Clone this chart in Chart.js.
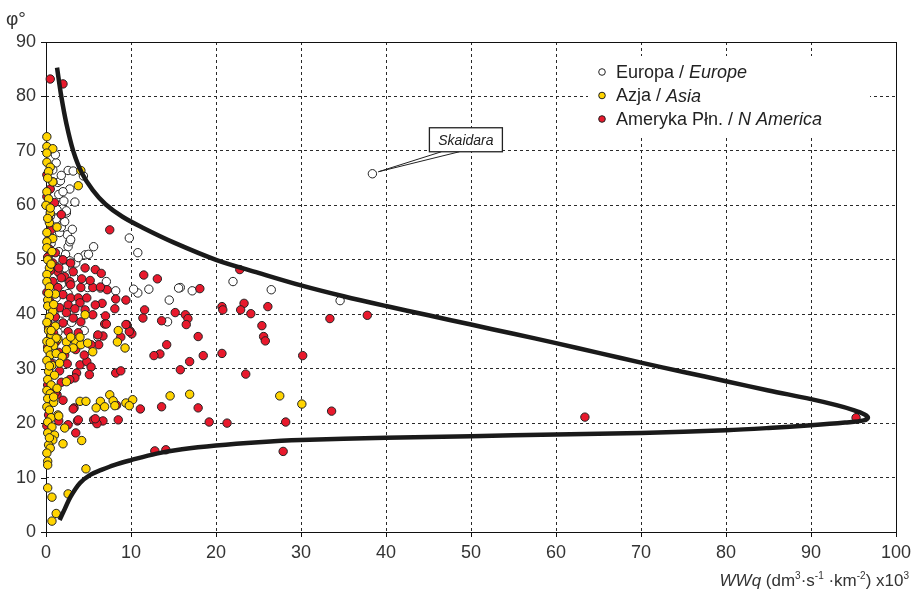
<!DOCTYPE html>
<html>
<head>
<meta charset="utf-8">
<script src="https://cdn.jsdelivr.net/npm/chart.js@4.4.0/dist/chart.umd.min.js"></script>
<style>
  html, body { margin: 0; padding: 0; background: #fff; }
  #wrap { width: 913px; height: 595px; }
</style>
</head>
<body>
<div id="wrap"><canvas id="chart"></canvas></div>
<script>
// ===== DATA =====
const xTicks = [0, 10, 20, 30, 40, 50, 60, 70, 80, 90, 100];
const yTicks = [0, 10, 20, 30, 40, 50, 60, 70, 80, 90];

const seriesLabels = ['Europa / ', 'Azja / ', 'Ameryka Płn. / '];
const seriesLabelsEn = ['Europe', 'Asia', 'N America'];

// Europa / Europe  [WWq, phi]
const europe = [
  [38.4,65.8],[34.6,42.5],[26.5,44.5],[22,46],[17.2,44.3],[15.8,44.9],[15.6,44.8],[14.5,42.6],
  [12.1,44.6],[10.8,43.9],[10.3,44.6],[8.2,44.3],[7.1,46],[6.4,44.8],[9.8,54],[10.8,51.3],
  [14.3,38.6],[5.6,52.4],[4.6,50.9],[5,51],[3.5,49.4],[3.3,46.7],[4.9,44.9],[2.6,52.4],
  [3.8,50.4],[2.5,54.6],[2.8,53.3],[1.6,55],[2.4,58.6],[2.6,66.4],[2.1,60.8],[2.4,59],
  [1.2,67.8],[1.4,64.2],[1.7,64.5],[2.9,53.7],[1.1,69.3],[3.2,66.3],[1.8,65.5],[0.8,66.5],
  [1.5,62],[0.9,60],[1.2,57.5],[1.8,56],[0.6,53],[1.5,51.5],[1,49],[2.2,48.5],[1.8,45.5],
  [1.2,43],[2.5,41],[1.5,38],[4,34.7],[6.1,35.8],[2,36],[1,33],[0.8,31],[3,38.5],[4.5,37],
  [0.5,58],[2.8,63],[4.4,65.4],[3.4,60.6],[2,62.5],[1.3,59.2],[2.2,57],[3.1,55.6],[2.3,51],
  [1.2,50.2],[2.8,49.8],[1.7,47.3],[0.9,44.6],[2.6,43.8],[1.9,40.2],[0.9,39.3],[1.4,36.7]
];

// Azja / Asia
const asia = [
  [0.1,72.6],[0.1,70.8],[0.8,70.4],[0.1,69.6],[0.1,67.9],[0.5,67],[0.3,66.2],[0.8,64.3],
  [4.1,66.4],[3.8,63.6],[0.2,65],[0.1,62.5],[0.3,61.2],[0,60],[0.5,58.6],[0.4,56.8],[1.3,56],
  [0.1,55],[0.8,53.9],[0.1,53.3],[0.1,52.2],[0.7,51.5],[0.2,50],[0.4,48.5],[0.1,47.3],[0.1,46],
  [0.4,45],[1.1,43.7],[0.2,42.6],[0.2,41.5],[0.8,40.5],[0.4,39.5],[0.1,38.5],[1.1,37.8],
  [0.3,37],[0.6,36],[0.1,35],[1.4,35.5],[0.9,34.2],[0.2,33.5],[0.5,32.5],[1.2,32.8],[0.1,31.5],
  [0.7,30.6],[0.3,29.5],[1,28.8],[0.2,28],[0.6,27],[0.1,26],[0.5,25.4],[0.2,24.5],[0.9,23.8],
  [0.1,23],[0.4,22.4],[1.4,21.5],[0.6,21],[0.2,20.2],[0.7,19.3],[0.2,18.2],[1,17.8],[0.8,16.9],
  [0.3,16],[0.5,15.4],[0.1,14.5],[0.2,13],[0.2,12.3],[0.2,8.1],[0.7,6.4],[0.7,2],[1.2,3.4],
  [4.6,39.9],[0.6,37],[1.2,35.6],[2.4,34.9],[3.5,34.9],[4.1,34.4],[4.9,34.7],[3.2,33.8],
  [8.5,37],[8.4,34.9],[9.3,33.8],[2.9,35.8],[4,35.8],[5.5,33.1],[2.4,33.5],[1.9,32.2],
  [2.4,27.6],[7.5,25.2],[14.6,25],[16.9,25.3],[4,24],[4.7,24],[6.4,24],[5.9,22.8],[6.9,23],
  [7.9,24.1],[8.1,23.2],[9.4,23.7],[10.2,24.3],[9.8,23.2],[2.2,19.1],[2,16.2],[4.2,16.8],
  [4.7,11.6],[2.6,7],[30.1,23.5],[27.5,25],[1.5,21.3],[0.5,59.5],[0.2,57.6],[0.6,49.2],
  [0.3,43.8],[0.9,41.8],[0.5,34.8],[1.6,31],[0.4,30.5],[1.3,26.4],[0.9,24.8],[0.4,17.3]
];

// Ameryka Płn. / N America
const america = [
  [0.5,83.2],[2,82.3],[95.3,21],[63.4,21.1],[37.8,39.8],[33.4,39.2],[30.2,32.4],[33.6,22.2],
  [27.9,14.8],[28.2,20.2],[26.1,41.4],[25.4,37.9],[25.6,35.9],[25.8,35.1],[24.1,40.1],[23.3,42],
  [22.9,40.8],[22.8,48.2],[20.7,41.4],[20.8,40.8],[23.5,29],[20.7,32.8],[21.3,20],[19.2,20.2],
  [18.5,32.4],[17.9,35.9],[17.9,22.8],[18.1,44.7],[16.9,31.3],[16.4,39.9],[16.7,39.2],[16.5,38.1],
  [15.8,29.8],[15.2,40.3],[13.6,38.8],[14.2,34.4],[13.4,32.7],[12.7,32.4],[13.6,23],[12.8,14.9],
  [14.1,15.1],[11.1,22.6],[11.5,47.2],[13.1,46.5],[11.6,40.8],[11.4,39.3],[9.5,38.1],[9.9,36.9],
  [10.1,36.4],[9.8,36.8],[8.8,35.8],[7.5,55.5],[7.2,44.5],[8.2,42.8],[9.4,42.6],[6.6,42],
  [8.1,41],[7,39.7],[6.9,38.2],[6.7,36],[6.2,34.4],[8.2,29.2],[8.8,29.6],[8.3,23.3],[8.5,20.6],
  [6.7,20.4],[5.6,20.6],[6,19.9],[3.3,22.8],[3.7,20.4],[2.6,19.7],[3.5,18.2],[1.3,25.2],
  [1.1,51.3],[0.8,49.4],[2,50],[2.9,49.4],[4.6,48.5],[5.8,48.2],[1.4,47.8],[2.2,46.9],[0.8,46],
  [1.8,46.7],[2.8,46],[1.4,44.9],[2.9,45.4],[4.1,44.9],[5.5,44.9],[6.4,45],[2,43.6],[2.9,43],
  [3.8,43],[2.6,41.7],[4,42.1],[1.6,41.2],[2.4,40.3],[4.6,40.8],[5.8,41.7],[1.1,39.5],[3.2,39.3],
  [4.1,38.6],[5.5,39.9],[7.1,38.2],[6.1,36.2],[2,38.4],[2.6,36.8],[3.8,36.6],[9.4,38.1],[5.3,34.4],
  [4,30.7],[4.8,31.3],[5.3,30.3],[3.6,29.2],[3.4,28.3],[5.1,28.9],[1.6,29.6],[2.5,30.9],[1.1,25.6],
  [3.2,22.6],[3.8,20.6],[5.8,20.8],[0.1,65.6],[0.8,64.3],[0.1,61.6],[1.8,58.3],[0.5,63],[1,60.5],
  [0.3,57.5],[0.6,55.5],[0.2,53.5],[0.4,52],[0.2,50.5],[0.5,48],[0.1,44],[0.4,42.5],[0.8,41],
  [0.3,38],[0.9,36.5],[0.2,34],[1.5,33],[0.6,31],[2.2,32.5],[0.2,27],[0.6,26.5],[1.8,27.5],
  [0.3,21.5],[0.1,19.5],[0.3,37.5],[1.5,48.5],[3.2,47.8],[4.2,46.5],[5.2,46.2],[6.5,47.5],
  [4.8,43],[3.4,41],[1.2,35],[3.5,33.5],[4.5,32.5],[2.8,28],[2,24.2],[1.5,20.4]
];

// envelope curve, traced from the top end round the tip to the bottom end
const envelope = [
  [1.3,85.3],[1.8,80],[2.4,75],[3.2,70],[4.2,66],[5.5,62.8],[7,60.2],[9,57.9],[11.5,55.8],
  [15,53.2],[20,50],[25,47.6],[30,45.3],[35,43.3],[40,41.5],[45,39.8],[50,38.1],[55,36.4],
  [60,34.7],[65,32.9],[70,31.1],[75,29.4],[80,27.7],[85,26],[90,24.4],[93,23.3],[95,22.4],
  [96.3,21.6],[96.7,21],[96.2,20.5],[94,20.1],[90,19.6],[85,19.1],[80,18.7],[70,18.2],
  [60,17.9],[50,17.6],[40,17.3],[30,16.9],[25,16.5],[20,15.9],[16,15.2],[13,14.4],[10,13.2],
  [8,12.3],[6.5,11.4],[5.2,10.5],[4,9],[2.9,6.5],[2.2,4.2],[1.6,2.2]
];

const skaidara = [38.4, 65.8];

const FONT = '"Liberation Sans", Arial, sans-serif';
const toXY = arr => arr.map(p => ({ x: p[0], y: p[1] }));
const colors = ['#ffffff', '#ffd400', '#e8192c'];

// ===== PLUGIN: frame, legend, labels =====
const decor = {
  id: 'decor',
  beforeDatasetsDraw(chart) {
    const { ctx, chartArea: a, scales: { x, y } } = chart;
    ctx.save();
    ctx.strokeStyle = '#111';
    ctx.lineWidth = 1;
    ctx.strokeRect(a.left + 0.5, a.top + 0.5, a.right - a.left, a.bottom - a.top);
    ctx.beginPath();
    xTicks.forEach(v => {
      const px = Math.round(x.getPixelForValue(v)) + 0.5;
      ctx.moveTo(px, a.bottom); ctx.lineTo(px, a.bottom + 5);
    });
    yTicks.forEach(v => {
      const py = Math.round(y.getPixelForValue(v)) + 0.5;
      ctx.moveTo(a.left - 5, py); ctx.lineTo(a.left, py);
    });
    ctx.stroke();
    ctx.restore();
  },
  afterDraw(chart) {
    const { ctx, chartArea: a, scales: { x, y } } = chart;
    ctx.save();

    // legend
    const lx = a.left + 556, ly = a.top + 30;
    ctx.fillStyle = '#fff';
    ctx.fillRect(lx - 14, ly - 16, 282, 80);
    seriesLabels.forEach((lab, i) => {
      const cy = ly + i * 23.5;
      ctx.beginPath();
      ctx.arc(lx, cy, 3.3, 0, Math.PI * 2);
      ctx.fillStyle = colors[i];
      ctx.fill();
      ctx.lineWidth = 1;
      ctx.strokeStyle = '#222';
      ctx.stroke();
      ctx.fillStyle = '#222';
      ctx.textBaseline = 'middle';
      ctx.textAlign = 'left';
      ctx.font = '18px ' + FONT;
      ctx.fillText(lab, lx + 14, cy + 1);
      const w = ctx.measureText(lab).width;
      ctx.font = 'italic 18px ' + FONT;
      ctx.fillText(seriesLabelsEn[i], lx + 14 + w, cy + 1);
    });

    // Skaidara callout
    const px = x.getPixelForValue(skaidara[0]);
    const py = y.getPixelForValue(skaidara[1]);
    const bx = px + 57, by = py - 46, bw = 73, bh = 24;
    ctx.strokeStyle = '#222';
    ctx.lineWidth = 1;
    ctx.beginPath();
    ctx.moveTo(bx + 12, by + bh);
    ctx.lineTo(px + 6, py - 2);
    ctx.lineTo(bx + 30, by + bh);
    ctx.stroke();
    ctx.fillStyle = '#fff';
    ctx.fillRect(bx, by, bw, bh);
    ctx.lineWidth = 1.3;
    ctx.strokeRect(bx, by, bw, bh);
    ctx.fillStyle = '#222';
    ctx.font = 'italic 14px ' + FONT;
    ctx.textAlign = 'center';
    ctx.textBaseline = 'middle';
    ctx.fillText('Skaidara', bx + bw / 2, by + bh / 2 + 1);

    // y title
    ctx.textAlign = 'left';
    ctx.textBaseline = 'alphabetic';
    ctx.font = '19px ' + FONT;
    ctx.fillStyle = '#333';
    ctx.fillText('\u03c6\u00b0', 6, 25);

    // x title with superscripts
    const parts = [
      ['WWq', 'italic 17px', 0], [' (dm', '17px', 0], ['3', '10px', -7], ['\u00b7s', '17px', 0],
      ['-1', '10px', -7], [' \u00b7km', '17px', 0], ['-2', '10px', -7], [') x10', '17px', 0], ['3', '10px', -7]
    ];
    let total = 0;
    parts.forEach(p => { ctx.font = p[1] + ' ' + FONT; total += ctx.measureText(p[0]).width; });
    let cx = 909 - total;
    parts.forEach(p => {
      ctx.font = p[1] + ' ' + FONT;
      ctx.fillText(p[0], cx, 586 + p[2]);
      cx += ctx.measureText(p[0]).width;
    });
    ctx.restore();
  }
};

// ===== CHART =====
const gridColor = (max) => (c) => (c.tick && (c.tick.value === 0 || c.tick.value === max)) ? 'rgba(0,0,0,0)' : '#2a2a2a';
const pointSet = (label, data, color, order) => ({
  type: 'scatter',
  label: label,
  data: toXY(data),
  backgroundColor: color,
  borderColor: '#222',
  borderWidth: 1,
  pointRadius: 4.2,
  clip: false,
  order: order
});

new Chart(document.getElementById('chart'), {
  type: 'scatter',
  data: {
    datasets: [
      {
        type: 'line',
        label: 'envelope',
        data: toXY(envelope),
        borderColor: '#1a1a1a',
        borderWidth: 4.5,
        pointRadius: 0,
        tension: 0.35,
        fill: false,
        order: 0
      },
      pointSet('Azja', asia, colors[1], 1),
      pointSet('Ameryka', america, colors[2], 2),
      pointSet('Europa', europe, colors[0], 3)
    ]
  },
  options: {
    responsive: true,
    maintainAspectRatio: false,
    animation: false,
    layout: { padding: { top: 42, right: 17, left: 0, bottom: 0 } },
    plugins: {
      legend: { display: false },
      tooltip: { enabled: false }
    },
    scales: {
      x: {
        type: 'linear',
        min: 0, max: 100,
        afterFit: s => { s.height = 63; s.paddingLeft = 0; s.paddingRight = 0; },
        afterBuildTicks: s => { s.ticks = xTicks.map(v => ({ value: v })); },
        grid: { color: gridColor(100), lineWidth: 1, drawTicks: false },
        border: { display: false, dash: [3, 3] },
        ticks: { color: '#333', padding: 10, font: { family: FONT, size: 18 }, maxRotation: 0 }
      },
      y: {
        type: 'linear',
        min: 0, max: 90,
        afterFit: s => { s.width = 46; s.paddingTop = 0; s.paddingBottom = 0; },
        afterBuildTicks: s => { s.ticks = yTicks.map(v => ({ value: v })); },
        grid: { color: gridColor(90), lineWidth: 1, drawTicks: false },
        border: { display: false, dash: [3, 3] },
        ticks: { color: '#333', padding: 10, font: { family: FONT, size: 18 } }
      }
    }
  },
  plugins: [decor]
});
</script>
</body>
</html>
